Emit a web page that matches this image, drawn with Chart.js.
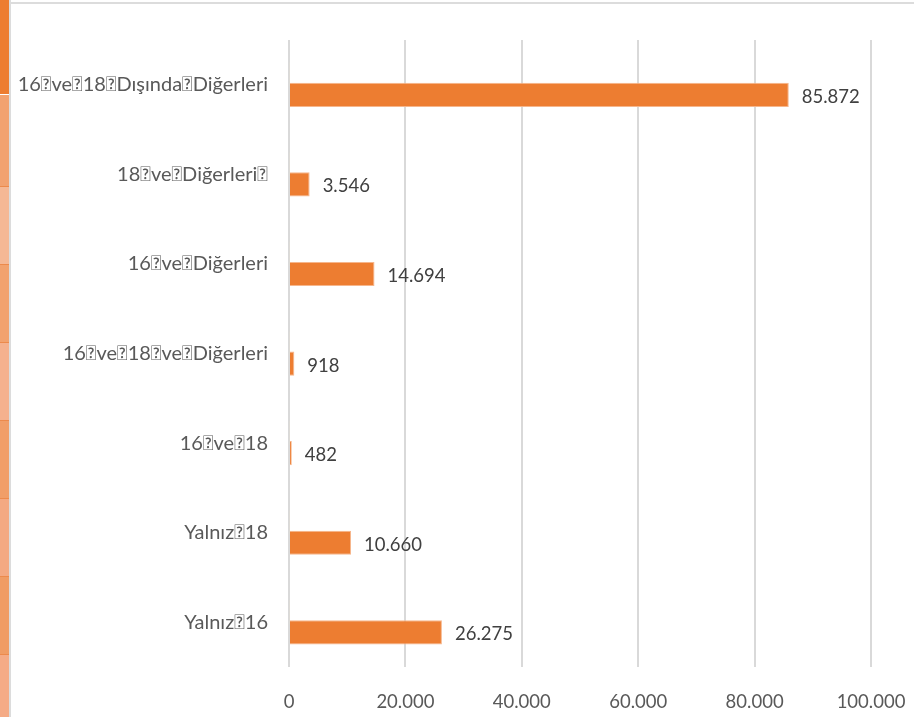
<!DOCTYPE html>
<html>
<head>
<meta charset="utf-8">
<script src="https://cdn.jsdelivr.net/npm/chart.js@4.4.1/dist/chart.umd.min.js"></script>
<style>
  html, body { margin: 0; padding: 0; background: #fff; }
  #wrap { width: 914px; height: 717px; position: relative; }
</style>
</head>
<body>
<div id="wrap"><canvas id="myChart"></canvas></div>
<script>
const categories = [
    '16\uF020ve\uF02018\uF020Dışında\uF020Diğerleri',
    '18\uF020ve\uF020Diğerleri\uF020',
    '16\uF020ve\uF020Diğerleri',
    '16\uF020ve\uF02018\uF020ve\uF020Diğerleri',
    '16\uF020ve\uF02018',
    'Yalnız\uF02018',
    'Yalnız\uF02016'
];
const counts = [85872, 3546, 14694, 918, 482, 10660, 26275];
const otherCounts = [150, 150, 150, 150, 150, 150, 150];
const xTicks = [0, 20000, 40000, 60000, 80000, 100000];

const stripColors = ['#ED7D31', '#F2A270', '#F5B895', '#F2A26E', '#F5B18E', '#F19E68', '#F4A982', '#F09C64', '#F5AB86'];

function fmt(v) {
    return String(v).replace(/\B(?=(\d{3})+(?!\d))/g, '.');
}

// side strip and frame lines around the chart
const frame = {
    id: 'frame',
    beforeDraw(chart) {
        const c = chart.ctx;
        c.save();
        let y = 0;
        const heights = [94, 92, 78, 78, 78, 78, 78, 78, 63];
        stripColors.forEach((col, i) => {
            c.fillStyle = col;
            c.fillRect(0, y, 9, heights[i]);
            if (i > 0) {
                c.fillStyle = i == 1 ? '#ffffff' : '#EC8A4C';
                c.fillRect(0, y, 9, 1);
            }
            y += heights[i];
        });
        c.fillStyle = '#dcdcdc';
        c.fillRect(9, 0, 2, 717);
        c.fillRect(11, 2, 903, 2);
        c.restore();
    }
};

// value labels to the right of each bar
const valueLabels = {
    id: 'valueLabels',
    afterDatasetsDraw(chart) {
        const c = chart.ctx;
        const meta = chart.getDatasetMeta(1);
        c.save();
        c.font = '18.5px Lato';
        c.fillStyle = '#404040';
        c.textBaseline = 'middle';
        meta.data.forEach((bar, i) => {
            c.fillText(fmt(counts[i]), bar.x + 13, bar.y + 2);
        });
        c.restore();
    }
};

const ctx = document.getElementById('myChart');
new Chart(ctx, {
    type: 'bar',
    data: {
        labels: categories,
        datasets: [{
            label: 'Diğer',
            data: otherCounts,
            backgroundColor: '#F1E4C6',
            categoryPercentage: 0.45,
            barPercentage: 1.2
        }, {
            label: 'Sayı',
            data: counts,
            backgroundColor: '#ED7D31',
            borderColor: '#F6B68C',
            borderWidth: 1,
            borderSkipped: 'left',
            categoryPercentage: 0.45,
            barPercentage: 1.2
        }]
    },
    options: {
        indexAxis: 'y',
        responsive: true,
        maintainAspectRatio: false,
        animation: false,
        layout: { padding: { top: 40, right: 43, left: 0, bottom: 0 } },
        plugins: {
            legend: { display: false },
            tooltip: { enabled: false }
        },
        scales: {
            x: {
                min: 0,
                max: 100000,
                afterBuildTicks(scale) {
                    scale.ticks = xTicks.map(v => ({ value: v }));
                },
                afterFit(scale) {
                    scale.height = 50;
                    scale.paddingLeft = 0;
                    scale.paddingRight = 0;
                },
                grid: { color: '#d9d9d9', lineWidth: 2, drawTicks: false },
                border: { display: false },
                ticks: {
                    padding: 24,
                    color: '#595959',
                    font: { family: 'Lato', size: 18.5 },
                    callback: v => fmt(v)
                }
            },
            y: {
                afterFit(scale) { scale.width = 289; },
                grid: { display: false },
                border: { display: false },
                ticks: {
                    padding: 13,
                    color: '#595959',
                    font: { family: 'Lato', size: 20 }
                }
            }
        }
    },
    plugins: [frame, valueLabels]
});
</script>
</body>
</html>
